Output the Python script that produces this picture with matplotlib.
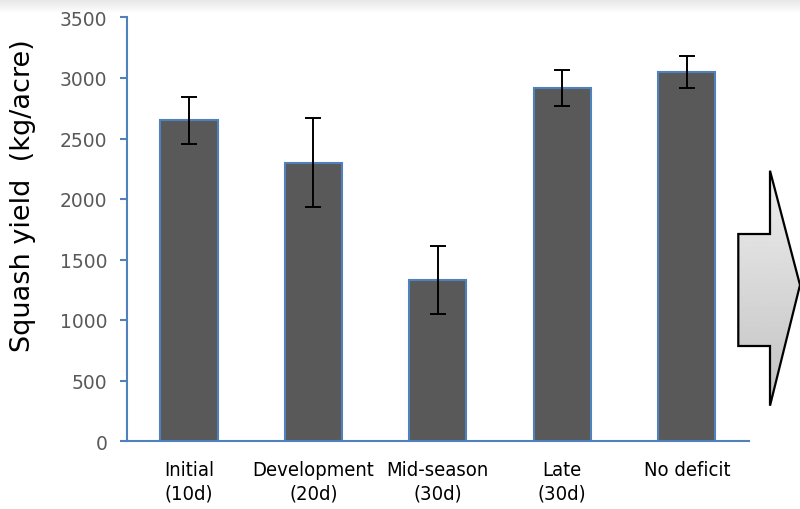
import numpy as np
import matplotlib
matplotlib.use('Agg')
import matplotlib.pyplot as plt
from matplotlib.patches import Polygon

# Data
stages = ['Initial\n(10d)', 'Development\n(20d)', 'Mid-season\n(30d)', 'Late\n(30d)', 'No deficit']
yield_kg = [2650, 2300, 1330, 2920, 3050]
yield_err = [195, 370, 280, 150, 130]
y_ticks = [0, 500, 1000, 1500, 2000, 2500, 3000, 3500]

blue = '#4f81bd'
W, H = 800, 510

fig = plt.figure(figsize=(8, 5.1), dpi=100)

# faint shadow band along the top of the slide
bg = fig.add_axes([0, 0, 1, 1], zorder=-5)
bg.axis('off')
grad = np.ones((H, W))
rows = np.arange(H)
top = np.clip(1 - rows / 14.0, 0, 1)
grad -= 0.10 * top[:, None]
bg.imshow(grad, cmap='gray', vmin=0, vmax=1, aspect='auto', extent=[0, 1, 0, 1])

ax = fig.add_axes([126.7 / W, 1 - 442 / H, (749 - 126.7) / W, (442 - 18.5) / H])
x = np.arange(len(stages))
ax.bar(x, yield_kg, width=0.46, color='#595959', edgecolor=blue, linewidth=1.5, zorder=2)
ax.errorbar(x, yield_kg, yerr=yield_err, fmt='none', ecolor='black',
            elinewidth=1.4, capsize=6, capthick=1.4, zorder=3)

ax.set_xlim(-0.5, len(stages) - 0.5)
ax.set_ylim(0, 3500)
ax.set_yticks(y_ticks)
ax.set_xticks(x)
ax.set_xticklabels(stages, family='DejaVu Sans', stretch='condensed',
                   fontsize=14.5, linespacing=1.3, va='top')
ax.tick_params(axis='x', length=0, pad=14, colors='black')
ax.tick_params(axis='y', length=5, width=1.5, color=blue, direction='out',
               pad=9, labelsize=13.5, labelcolor='#595959')

for side in ['top', 'right']:
    ax.spines[side].set_visible(False)
for side in ['left', 'bottom']:
    ax.spines[side].set_color(blue)
    ax.spines[side].set_linewidth(1.5)

fig.text(23 / W, 1 - 196 / H, 'Squash yield  (kg/acre)', rotation=90,
         ha='center', va='center', fontsize=19.5, color='black')

# decorative arrow on the right edge
pts_px = [(738.3, 235), (770, 235), (770, 171.7), (800, 286), (770, 406.7),
          (770, 347), (738.3, 347)]
pts = [(px / W, 1 - py / H) for px, py in pts_px]
arrow = Polygon(pts, closed=True, transform=fig.transFigure,
                facecolor='none', edgecolor='black', linewidth=1.6, zorder=6)
fig.patches.append(arrow)

gax = fig.add_axes([0, 0, 1, 1], zorder=5)
gax.axis('off')
gax.set_xlim(0, 1)
gax.set_ylim(0, 1)
fill = np.linspace(0.93, 0.76, 200)[:, None] * np.ones((200, 2))
img = gax.imshow(fill, cmap='gray', vmin=0, vmax=1, aspect='auto',
                 extent=[738.3 / W, 1, 1 - 406.7 / H, 1 - 171.7 / H])
clip = Polygon(pts, closed=True, transform=gax.transData, facecolor='none', edgecolor='none')
gax.add_patch(clip)
img.set_clip_path(clip)

fig.savefig('out.png', dpi=100)
